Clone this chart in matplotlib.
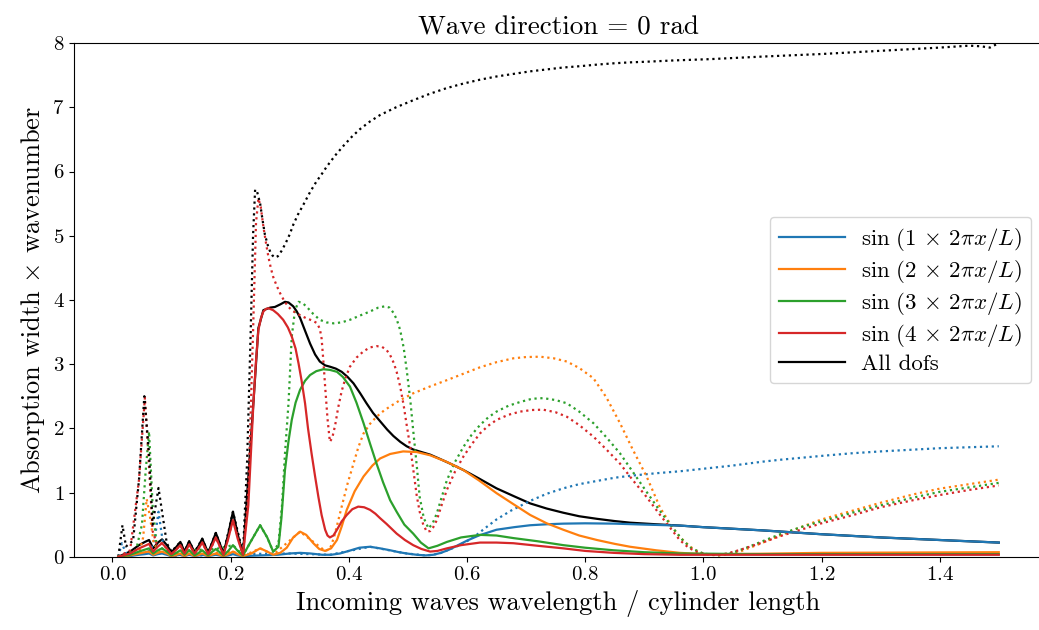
import matplotlib
matplotlib.use("Agg")
import matplotlib.pyplot as plt

plt.rcParams['font.family'] = 'serif'
plt.rcParams['font.serif'] = ['cmr10']
plt.rcParams['mathtext.fontset'] = 'cm'
plt.rcParams['axes.formatter.use_mathtext'] = True
plt.rcParams['font.size'] = 15

# ---------------- data ----------------
# Low-wavelength zigzag region, shared grid for the solid curves
x_low = [0.010, 0.030, 0.045, 0.055, 0.062, 0.069, 0.077, 0.084, 0.092, 0.100,
         0.108, 0.115, 0.122, 0.130, 0.139, 0.146, 0.152, 0.162, 0.168, 0.175,
         0.188, 0.196, 0.204, 0.212, 0.221]
blk_low = [0.00, 0.08, 0.18, 0.23, 0.26, 0.13, 0.22, 0.27, 0.18, 0.07,
           0.15, 0.23, 0.08, 0.24, 0.07, 0.17, 0.28, 0.06, 0.20, 0.37,
           0.05, 0.35, 0.70, 0.35, 0.03]
red_low = [0.00, 0.05, 0.13, 0.17, 0.20, 0.08, 0.16, 0.21, 0.13, 0.04,
           0.11, 0.18, 0.05, 0.19, 0.05, 0.13, 0.22, 0.04, 0.16, 0.30,
           0.03, 0.28, 0.57, 0.28, 0.03]
grn_low = [0.00, 0.03, 0.08, 0.11, 0.13, 0.05, 0.10, 0.13, 0.08, 0.02,
           0.06, 0.10, 0.03, 0.10, 0.02, 0.06, 0.10, 0.02, 0.07, 0.12,
           0.02, 0.09, 0.18, 0.09, 0.02]
org_low = [0.00, 0.02, 0.05, 0.07, 0.08, 0.03, 0.06, 0.08, 0.05, 0.01,
           0.03, 0.05, 0.01, 0.05, 0.01, 0.03, 0.05, 0.01, 0.03, 0.05,
           0.01, 0.04, 0.08, 0.04, 0.01]
blu_low = [0.00, 0.01, 0.03, 0.04, 0.05, 0.02, 0.04, 0.05, 0.03, 0.01,
           0.02, 0.03, 0.01, 0.03, 0.01, 0.02, 0.03, 0.01, 0.02, 0.03,
           0.01, 0.02, 0.04, 0.02, 0.01]

# --- solid curves beyond the zigzag region ---
x_blk = [0.2386, 0.247, 0.2555, 0.267, 0.275, 0.284, 0.292, 0.298, 0.306, 0.312,
         0.3176, 0.326, 0.3345, 0.343, 0.351, 0.360, 0.368, 0.378, 0.388, 0.398,
         0.408, 0.419, 0.430, 0.441, 0.453, 0.465, 0.4755, 0.487, 0.498, 0.509,
         0.523, 0.5376, 0.555, 0.574, 0.594, 0.620, 0.650, 0.680, 0.707, 0.735,
         0.763, 0.790, 0.820, 0.850, 0.876, 0.920, 0.960, 1.000, 1.100, 1.200,
         1.300, 1.400, 1.500]
y_blk = [2.40, 3.56, 3.84, 3.88, 3.89, 3.93, 3.97, 3.96, 3.90, 3.82,
         3.72, 3.52, 3.32, 3.15, 3.04, 2.98, 2.96, 2.93, 2.88, 2.80,
         2.70, 2.55, 2.39, 2.24, 2.11, 1.98, 1.88, 1.79, 1.72, 1.67,
         1.63, 1.59, 1.52, 1.44, 1.35, 1.22, 1.065, 0.94, 0.83, 0.75,
         0.685, 0.63, 0.59, 0.555, 0.53, 0.505, 0.485, 0.46, 0.41, 0.35,
         0.30, 0.26, 0.22]

x_blu = [0.221, 0.250, 0.280, 0.300, 0.3176, 0.335, 0.355, 0.370, 0.385, 0.400,
         0.418, 0.436, 0.453, 0.470, 0.485, 0.498, 0.515, 0.530, 0.543, 0.556,
         0.570, 0.585, 0.600, 0.620, 0.650, 0.680, 0.707, 0.735, 0.763, 0.800,
         0.850, 0.900, 0.960, 1.000, 1.100, 1.200, 1.300, 1.400, 1.500]
y_blu = [0.01, 0.02, 0.03, 0.05, 0.06, 0.05, 0.03, 0.03, 0.05, 0.09,
         0.14, 0.155, 0.13, 0.10, 0.07, 0.05, 0.03, 0.02, 0.03, 0.06,
         0.11, 0.18, 0.25, 0.33, 0.42, 0.46, 0.49, 0.505, 0.515, 0.52,
         0.515, 0.50, 0.485, 0.46, 0.41, 0.35, 0.30, 0.26, 0.22]

x_org = [0.235, 0.250, 0.262, 0.272, 0.284, 0.295, 0.306, 0.3176, 0.328, 0.340,
         0.350, 0.360, 0.370, 0.380, 0.388, 0.3966, 0.410, 0.425, 0.440, 0.453,
         0.470, 0.492, 0.515, 0.5376, 0.565, 0.594, 0.620, 0.650, 0.680, 0.707,
         0.735, 0.763, 0.790, 0.820, 0.850, 0.876, 0.920, 0.960, 1.000, 1.050,
         1.200, 1.500]
y_org = [0.05, 0.13, 0.08, 0.03, 0.06, 0.14, 0.30, 0.39, 0.34, 0.21,
         0.12, 0.09, 0.13, 0.26, 0.47, 0.73, 1.02, 1.25, 1.42, 1.53,
         1.60, 1.64, 1.63, 1.58, 1.48, 1.35, 1.19, 0.99, 0.81, 0.65,
         0.52, 0.42, 0.33, 0.26, 0.20, 0.155, 0.10, 0.06, 0.04, 0.04,
         0.06, 0.07]

x_grn = [0.235, 0.250, 0.262, 0.272, 0.281, 0.286, 0.292, 0.298, 0.3035, 0.310,
         0.3176, 0.326, 0.3345, 0.345, 0.357, 0.368, 0.380, 0.390, 0.402, 0.413,
         0.425, 0.436, 0.447, 0.458, 0.470, 0.481, 0.494, 0.509, 0.522, 0.535,
         0.550, 0.566, 0.590, 0.622, 0.650, 0.6785, 0.720, 0.763, 0.800, 0.848,
         0.900, 0.960, 1.100, 1.500]
y_grn = [0.25, 0.49, 0.30, 0.08, 0.155, 0.60, 1.35, 1.80, 2.13, 2.40,
         2.60, 2.74, 2.83, 2.89, 2.92, 2.91, 2.88, 2.80, 2.65, 2.40,
         2.08, 1.76, 1.45, 1.16, 0.88, 0.70, 0.50, 0.36, 0.22, 0.13,
         0.17, 0.23, 0.30, 0.34, 0.33, 0.29, 0.24, 0.18, 0.14, 0.10,
         0.07, 0.05, 0.04, 0.04]

x_red = [0.230, 0.2386, 0.243, 0.247, 0.2515, 0.2555, 0.260, 0.264, 0.272, 0.280,
         0.289, 0.297, 0.3035, 0.310, 0.315, 0.320, 0.326, 0.331, 0.337, 0.343,
         0.3486, 0.354, 0.360, 0.364, 0.368, 0.374, 0.380, 0.388, 0.3966, 0.406,
         0.416, 0.426, 0.436, 0.445, 0.453, 0.464, 0.481, 0.495, 0.509, 0.523,
         0.5376, 0.550, 0.566, 0.590, 0.622, 0.650, 0.6785, 0.720, 0.763, 0.800,
         0.848, 0.900, 0.960, 1.500]
y_red = [0.80, 2.39, 3.05, 3.53, 3.72, 3.82, 3.86, 3.87, 3.84, 3.78,
         3.69, 3.57, 3.43, 3.24, 3.01, 2.75, 2.39, 2.00, 1.61, 1.25,
         0.93, 0.65, 0.42, 0.33, 0.30, 0.33, 0.42, 0.55, 0.65, 0.74,
         0.78, 0.77, 0.73, 0.67, 0.60, 0.51, 0.36, 0.26, 0.18, 0.12,
         0.08, 0.09, 0.13, 0.18, 0.22, 0.22, 0.21, 0.17, 0.13, 0.09,
         0.06, 0.04, 0.03, 0.03]

# --- dotted curves ---
x_blk_dot = [0.010, 0.017, 0.023, 0.035, 0.045, 0.054, 0.062, 0.068, 0.078, 0.092,
             0.100, 0.115, 0.122, 0.130, 0.139, 0.152, 0.162, 0.175, 0.188, 0.204,
             0.221, 0.228, 0.234, 0.238, 0.2415, 0.245, 0.250, 0.254, 0.258, 0.263,
             0.267, 0.271, 0.275, 0.280, 0.286, 0.293, 0.300, 0.306, 0.314, 0.323,
             0.3345, 0.345, 0.355, 0.363, 0.377, 0.391, 0.405, 0.419, 0.436, 0.453,
             0.480, 0.509, 0.537, 0.566, 0.594, 0.622, 0.650, 0.6785, 0.707, 0.735,
             0.763, 0.791, 0.820, 0.848, 0.876, 0.904, 0.950, 1.011, 1.100, 1.200,
             1.300, 1.400, 1.450, 1.470, 1.485, 1.500]
y_blk_dot = [0.00, 0.49, 0.16, 0.25, 1.20, 2.50, 1.60, 0.50, 1.07, 0.21,
             0.08, 0.23, 0.08, 0.24, 0.07, 0.28, 0.06, 0.37, 0.05, 0.70,
             0.05, 1.50, 3.50, 5.00, 5.72, 5.68, 5.50, 5.25, 5.02, 4.85,
             4.75, 4.69, 4.66, 4.68, 4.76, 4.88, 5.02, 5.17, 5.33, 5.48,
             5.68, 5.84, 5.97, 6.08, 6.25, 6.40, 6.54, 6.66, 6.78, 6.88,
             7.00, 7.11, 7.21, 7.30, 7.37, 7.43, 7.48, 7.52, 7.56, 7.59,
             7.62, 7.64, 7.665, 7.685, 7.70, 7.71, 7.73, 7.75, 7.79, 7.83,
             7.88, 7.93, 7.96, 7.95, 7.93, 8.00]

x_red_dot = [0.010, 0.030, 0.045, 0.055, 0.062, 0.068, 0.075, 0.084, 0.092, 0.100,
             0.115, 0.122, 0.130, 0.139, 0.152, 0.162, 0.175, 0.188, 0.204, 0.221,
             0.230, 0.238, 0.243, 0.247, 0.251, 0.2555, 0.260, 0.264, 0.268, 0.272,
             0.278, 0.284, 0.291, 0.298, 0.305, 0.312, 0.320, 0.329, 0.338, 0.346,
             0.351, 0.354, 0.357, 0.360, 0.364, 0.368, 0.372, 0.377, 0.382, 0.388,
             0.395, 0.402, 0.413, 0.425, 0.436, 0.447, 0.456, 0.464, 0.470, 0.476,
             0.481, 0.487, 0.493, 0.498, 0.504, 0.510, 0.515, 0.520, 0.526, 0.532,
             0.538, 0.543, 0.549, 0.557, 0.566, 0.580, 0.594, 0.608, 0.622, 0.636,
             0.650, 0.670, 0.690, 0.710, 0.729, 0.750, 0.769, 0.790, 0.814, 0.836,
             0.859, 0.880, 0.904, 0.926, 0.949, 0.960, 0.975, 0.990, 1.005, 1.023,
             1.040, 1.060, 1.080, 1.100, 1.130, 1.165, 1.200, 1.250, 1.300, 1.355,
             1.400, 1.450, 1.500]
y_red_dot = [0.00, 0.10, 1.20, 2.48, 1.40, 0.40, 0.20, 0.21, 0.13, 0.04,
             0.18, 0.05, 0.19, 0.05, 0.22, 0.04, 0.30, 0.03, 0.57, 0.03,
             1.00, 3.50, 5.20, 5.58, 5.45, 5.14, 4.88, 4.67, 4.50, 4.36,
             4.22, 4.10, 3.98, 3.89, 3.83, 3.79, 3.75, 3.71, 3.68, 3.64,
             3.55, 3.40, 3.05, 2.65, 2.15, 1.79, 1.85, 2.05, 2.32, 2.58,
             2.80, 2.96, 3.10, 3.20, 3.26, 3.28, 3.27, 3.22, 3.14, 3.02,
             2.88, 2.65, 2.35, 2.05, 1.71, 1.30, 0.95, 0.70, 0.50, 0.39,
             0.40, 0.46, 0.57, 0.80, 1.04, 1.33, 1.56, 1.75, 1.92, 2.04,
             2.13, 2.21, 2.26, 2.285, 2.29, 2.25, 2.18, 2.05, 1.87, 1.67,
             1.45, 1.20, 0.93, 0.66, 0.39, 0.26, 0.14, 0.07, 0.04, 0.03,
             0.05, 0.10, 0.16, 0.22, 0.32, 0.42, 0.52, 0.64, 0.77, 0.88,
             0.96, 1.04, 1.11]

x_grn_dot = [0.010, 0.040, 0.050, 0.056, 0.062, 0.068, 0.075, 0.084, 0.100, 0.130,
             0.175, 0.204, 0.221, 0.235, 0.250, 0.262, 0.272, 0.281, 0.287, 0.292,
             0.298, 0.3035, 0.309, 0.315, 0.322, 0.329, 0.340, 0.351, 0.362, 0.374,
             0.388, 0.402, 0.420, 0.436, 0.450, 0.461, 0.469, 0.4755, 0.481, 0.487,
             0.493, 0.498, 0.504, 0.509, 0.515, 0.520, 0.527, 0.535, 0.542, 0.549,
             0.557, 0.566, 0.580, 0.594, 0.608, 0.622, 0.636, 0.650, 0.670, 0.690,
             0.710, 0.729, 0.750, 0.769, 0.790, 0.814, 0.836, 0.859, 0.880, 0.904,
             0.926, 0.949, 0.965, 0.980, 1.000, 1.023, 1.045, 1.070, 1.100, 1.130,
             1.165, 1.200, 1.250, 1.300, 1.355, 1.400, 1.450, 1.500]
y_grn_dot = [0.00, 0.10, 0.50, 1.30, 1.95, 0.80, 0.15, 0.13, 0.02, 0.10,
             0.12, 0.18, 0.02, 0.25, 0.49, 0.30, 0.08, 0.20, 0.80, 1.60,
             2.39, 3.43, 3.84, 3.97, 3.95, 3.89, 3.78, 3.69, 3.65, 3.635,
             3.65, 3.69, 3.76, 3.82, 3.88, 3.90, 3.88, 3.80, 3.70, 3.53,
             3.25, 2.91, 2.45, 1.97, 1.42, 0.93, 0.60, 0.44, 0.52, 0.675,
             0.92, 1.19, 1.48, 1.71, 1.90, 2.05, 2.17, 2.26, 2.35, 2.41,
             2.46, 2.47, 2.44, 2.39, 2.26, 2.08, 1.86, 1.61, 1.33, 1.01,
             0.72, 0.44, 0.26, 0.13, 0.05, 0.02, 0.05, 0.13, 0.24, 0.35,
             0.46, 0.55, 0.68, 0.80, 0.92, 1.01, 1.08, 1.15]

x_org_dot = [0.010, 0.045, 0.052, 0.058, 0.064, 0.070, 0.080, 0.100, 0.204, 0.221,
             0.250, 0.272, 0.3176, 0.360, 0.368, 0.375, 0.381, 0.388, 0.398, 0.408,
             0.416, 0.425, 0.436, 0.447, 0.460, 0.475, 0.487, 0.509, 0.537, 0.566,
             0.594, 0.622, 0.650, 0.6785, 0.700, 0.724, 0.747, 0.769, 0.790, 0.814,
             0.836, 0.859, 0.880, 0.904, 0.927, 0.949, 0.960, 0.977, 0.994, 1.010,
             1.029, 1.045, 1.062, 1.090, 1.130, 1.165, 1.200, 1.250, 1.300, 1.355,
             1.400, 1.450, 1.500]
y_org_dot = [0.00, 0.05, 0.30, 0.90, 0.60, 0.20, 0.08, 0.01, 0.08, 0.01,
             0.13, 0.03, 0.39, 0.09, 0.12, 0.30, 0.52, 0.78, 1.14, 1.45,
             1.70, 1.92, 2.07, 2.18, 2.28, 2.37, 2.44, 2.545, 2.65, 2.75,
             2.85, 2.95, 3.03, 3.09, 3.11, 3.115, 3.09, 3.04, 2.94, 2.78,
             2.48, 2.08, 1.68, 1.25, 0.76, 0.44, 0.31, 0.16, 0.06, 0.03,
             0.02, 0.04, 0.08, 0.18, 0.33, 0.46, 0.58, 0.71, 0.84, 0.97,
             1.06, 1.13, 1.20]

x_blu_dot = [0.010, 0.016, 0.023, 0.050, 0.065, 0.072, 0.078, 0.085, 0.095, 0.150,
             0.204, 0.300, 0.368, 0.436, 0.498, 0.530, 0.543, 0.556, 0.570, 0.585,
             0.600, 0.615, 0.630, 0.650, 0.675, 0.707, 0.735, 0.763, 0.790, 0.820,
             0.850, 0.876, 0.920, 0.960, 1.000, 1.050, 1.100, 1.130, 1.200, 1.250,
             1.300, 1.350, 1.400, 1.450, 1.500]
y_blu_dot = [0.00, 0.21, 0.05, 0.05, 0.10, 0.30, 0.70, 0.25, 0.05, 0.02,
             0.04, 0.05, 0.03, 0.155, 0.05, 0.02, 0.03, 0.06, 0.11, 0.17,
             0.24, 0.33, 0.44, 0.58, 0.72, 0.87, 0.98, 1.065, 1.13, 1.18,
             1.23, 1.26, 1.30, 1.33, 1.37, 1.42, 1.48, 1.51, 1.57, 1.61,
             1.64, 1.665, 1.69, 1.705, 1.72]

labels = [r'$\sin\,(1\,\times\,2\pi x/L)$',
          r'$\sin\,(2\,\times\,2\pi x/L)$',
          r'$\sin\,(3\,\times\,2\pi x/L)$',
          r'$\sin\,(4\,\times\,2\pi x/L)$',
          'All dofs']
colors = ['#1f77b4', '#ff7f0e', '#2ca02c', '#d62728', 'black']

# ---------------- plot ----------------
fig = plt.figure(figsize=(10.39, 6.30), dpi=100)
ax = fig.add_axes([74.3 / 1039, (630 - 556.7) / 630,
                   (1042.8 - 74.3) / 1039, (556.7 - 43.1) / 630])

solid = [(x_low + x_blu, blu_low + y_blu),
         (x_low + x_org, org_low + y_org),
         (x_low + x_grn, grn_low + y_grn),
         (x_low + x_red, red_low + y_red),
         (x_low + x_blk, blk_low + y_blk)]
dotted = [(x_blu_dot, y_blu_dot), (x_org_dot, y_org_dot), (x_grn_dot, y_grn_dot),
          (x_red_dot, y_red_dot), (x_blk_dot, y_blk_dot)]

handles = []
for (xs, ys), c, lab in zip(solid, colors, labels):
    z = 2.0 if c == 'black' else 2.1
    h, = ax.plot(xs, ys, color=c, lw=1.6, label=lab, zorder=z)
    handles.append(h)
for (xs, ys), c in zip(dotted, colors):
    ax.plot(xs, ys, color=c, lw=1.6, ls=':', zorder=2.05)

ax.spines['right'].set_visible(False)
ax.set_xlim(-0.0645, 1.5745)
ax.set_ylim(0, 8)
ax.set_xticks([0.0, 0.2, 0.4, 0.6, 0.8, 1.0, 1.2, 1.4])
ax.set_xlabel('Incoming waves wavelength / cylinder length', fontsize=19)
ax.set_ylabel(r'Absorption width $\times$ wavenumber', fontsize=19)
ax.set_title('Wave direction = 0 rad', fontsize=19.5)
ax.legend(handles=handles, loc='center right', fontsize=16.5,
          handlelength=2.9, labelspacing=0.22, handletextpad=0.7)

fig.savefig('out.png', dpi=100)
